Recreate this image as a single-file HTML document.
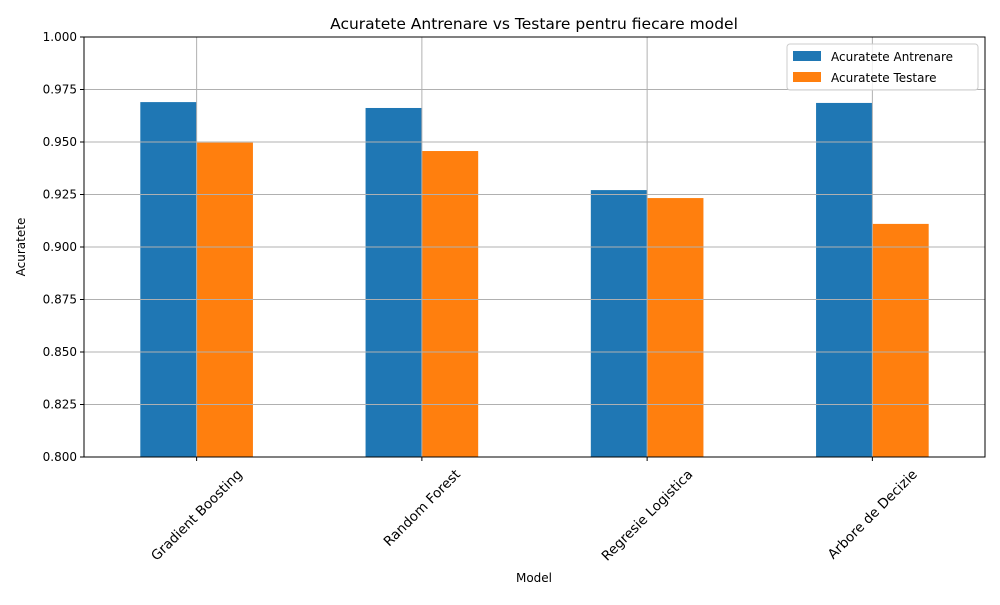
<!DOCTYPE html>
<html><head><meta charset="utf-8"><style>
body{margin:0;background:#fff;font-family:"Liberation Sans","DejaVu Sans",sans-serif}
svg text{font-family:"DejaVu Sans","Liberation Sans",sans-serif}
</style></head><body>
<svg id="chart" width="1000" height="600" xmlns="http://www.w3.org/2000/svg"></svg>
<script>
const categories = ["Gradient Boosting","Random Forest","Regresie Logistica","Arbore de Decizie"];
const trainValues = [0.969, 0.9662, 0.9271, 0.9686];
const testValues = [0.9497, 0.9457, 0.9233, 0.911];
const yTicks = [0.800,0.825,0.850,0.875,0.900,0.925,0.950,0.975,1.000];
const seriesNames = ["Acuratete Antrenare","Acuratete Testare"];

const svg = document.getElementById('chart');
const NS = 'http://www.w3.org/2000/svg';
const L=84,R=985,T=37,B=457;
const yMin=0.8,yMax=1.0;
function y(v){return B-(v-yMin)/(yMax-yMin)*(B-T);}
function x(i){return L+(i+0.5)/categories.length*(R-L);}
const bw=(R-L)/categories.length*0.25;
function mk(tag,attrs,parent){const e=document.createElementNS(NS,tag);for(const k in attrs)e.setAttribute(k,attrs[k]);(parent||svg).appendChild(e);return e;}

const title=mk('text',{x:534,y:29,'text-anchor':'middle','font-size':15.5});
title.textContent="Acuratete Antrenare vs Testare pentru fiecare model";


const bars = mk('g',{});


categories.forEach((c,i)=>{
  const r1=mk('rect',{x:x(i)-bw,y:y(trainValues[i]),width:bw,height:B-y(trainValues[i]),fill:'#1f77b4'},bars);
  
  
  const r2=mk('rect',{x:x(i),y:y(testValues[i]),width:bw,height:B-y(testValues[i]),fill:'#ff7f0e'},bars);
  
  
});
const grid=mk('g',{stroke:'#b0b0b0','stroke-width':1});


yTicks.forEach(t=>{mk('line',{x1:L,x2:R,y1:y(t),y2:y(t)},grid);});
categories.forEach((c,i)=>{mk('line',{x1:x(i),x2:x(i),y1:T,y2:B},grid);});
const frame=mk('rect',{x:L,y:T,width:R-L,height:B-T,fill:'none',stroke:'#000','stroke-width':1});


yTicks.forEach(t=>{
  mk('line',{x1:L-4,x2:L,y1:y(t),y2:y(t),stroke:'#000'});
  const tx=mk('text',{x:L-7,y:y(t)+4,'text-anchor':'end','font-size':12});
  tx.textContent=t.toFixed(3);
  
  
});
categories.forEach((c,i)=>{
  mk('line',{x1:x(i),x2:x(i),y1:B,y2:B+4,stroke:'#000'});
  const tx=mk('text',{x:0,y:4.5,'text-anchor':'middle','font-size':13.5});
  tx.textContent=c;
  
  
  const len=tx.getComputedTextLength();
  const h=(len+14)*Math.SQRT1_2;
  tx.setAttribute('transform',`translate(${x(i)},${B+10+h/2}) rotate(-45)`);
});
const xt=mk('text',{x:534,y:582,'text-anchor':'middle','font-size':12});xt.textContent="Model";


const yt=mk('text',{x:0,y:0,'text-anchor':'middle','font-size':12,transform:'translate(25,247) rotate(-90)'});yt.textContent="Acuratete";


const lg=mk('g',{});


mk('rect',{x:787,y:44,width:191,height:46,rx:3,fill:'#fff','fill-opacity':0.8,stroke:'#ccc'},lg);
seriesNames.forEach((s,k)=>{
  const yy=51+k*21;
  mk('rect',{x:793,y:yy,width:28,height:10,fill:k?'#ff7f0e':'#1f77b4'},lg);
  const t=mk('text',{x:831,y:yy+10,'font-size':12},lg);t.textContent=s;
  
  
});
</script>
</body></html>
